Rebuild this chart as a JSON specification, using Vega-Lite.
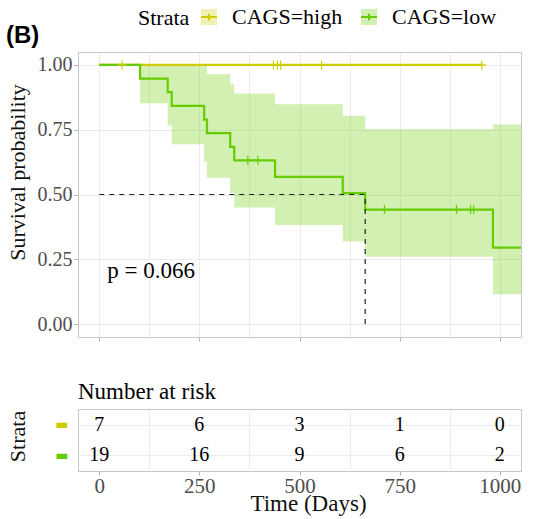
{
  "$schema": "https://vega.github.io/schema/vega-lite/v6.json",
  "background": "white",
  "padding": {"top": 6, "left": 5, "right": 0, "bottom": 0},
  "spacing": 38,
  "config": {
    "view": {"stroke": "#c6c6c6", "strokeWidth": 1},
    "font": "Liberation Serif",
    "axis": {
      "labelFont": "Liberation Serif",
      "titleFont": "Liberation Serif",
      "labelColor": "#4d4d4d",
      "titleColor": "#111111",
      "titleFontWeight": "normal",
      "gridColor": "#ebebeb",
      "gridWidth": 1,
      "tickColor": "#b3b3b3",
      "domain": false,
      "labelFontSize": 20,
      "titleFontSize": 22,
      "labelOverlap": false
    }
  },
  "datasets": {
    "line": [
      {"strata": "CAGS=high", "time": 0, "surv": 1},
      {"strata": "CAGS=high", "time": 955, "surv": 1},
      {"strata": "CAGS=low", "time": 0, "surv": 1},
      {"strata": "CAGS=low", "time": 102, "surv": 0.947},
      {"strata": "CAGS=low", "time": 171, "surv": 0.895},
      {"strata": "CAGS=low", "time": 181, "surv": 0.842},
      {"strata": "CAGS=low", "time": 262, "surv": 0.789},
      {"strata": "CAGS=low", "time": 269, "surv": 0.737},
      {"strata": "CAGS=low", "time": 327, "surv": 0.684},
      {"strata": "CAGS=low", "time": 337, "surv": 0.632},
      {"strata": "CAGS=low", "time": 439, "surv": 0.568},
      {"strata": "CAGS=low", "time": 608, "surv": 0.505},
      {"strata": "CAGS=low", "time": 664, "surv": 0.442},
      {"strata": "CAGS=low", "time": 983, "surv": 0.295},
      {"strata": "CAGS=low", "time": 1053, "surv": 0.295}
    ],
    "band": [
      {"strata": "CAGS=low", "time": 0, "lower": 1, "upper": 1},
      {"strata": "CAGS=low", "time": 102, "lower": 0.852, "upper": 1},
      {"strata": "CAGS=low", "time": 171, "lower": 0.767, "upper": 1},
      {"strata": "CAGS=low", "time": 181, "lower": 0.694, "upper": 1},
      {"strata": "CAGS=low", "time": 262, "lower": 0.626, "upper": 1},
      {"strata": "CAGS=low", "time": 269, "lower": 0.565, "upper": 0.964},
      {"strata": "CAGS=low", "time": 327, "lower": 0.506, "upper": 0.926},
      {"strata": "CAGS=low", "time": 337, "lower": 0.45, "upper": 0.89},
      {"strata": "CAGS=low", "time": 439, "lower": 0.382, "upper": 0.848},
      {"strata": "CAGS=low", "time": 608, "lower": 0.319, "upper": 0.804},
      {"strata": "CAGS=low", "time": 664, "lower": 0.26, "upper": 0.752},
      {"strata": "CAGS=low", "time": 983, "lower": 0.115, "upper": 0.77},
      {"strata": "CAGS=low", "time": 1053, "lower": 0.115, "upper": 0.77}
    ],
    "censor": [
      {"strata": "CAGS=high", "time": 57, "surv": 1},
      {"strata": "CAGS=high", "time": 435, "surv": 1},
      {"strata": "CAGS=high", "time": 445, "surv": 1},
      {"strata": "CAGS=high", "time": 453, "surv": 1},
      {"strata": "CAGS=high", "time": 555, "surv": 1},
      {"strata": "CAGS=high", "time": 955, "surv": 1},
      {"strata": "CAGS=low", "time": 371, "surv": 0.632},
      {"strata": "CAGS=low", "time": 396, "surv": 0.632},
      {"strata": "CAGS=low", "time": 712, "surv": 0.442},
      {"strata": "CAGS=low", "time": 892, "surv": 0.442},
      {"strata": "CAGS=low", "time": 927, "surv": 0.442},
      {"strata": "CAGS=low", "time": 935, "surv": 0.442}
    ],
    "median": [
      {"x": 0, "x2": 664, "y": 0.5, "y2": 0.5},
      {"x": 664, "x2": 664, "y": 0, "y2": 0.5}
    ],
    "risk": [
      {"strata": "CAGS=high", "time": 0, "n": 7},
      {"strata": "CAGS=high", "time": 250, "n": 6},
      {"strata": "CAGS=high", "time": 500, "n": 3},
      {"strata": "CAGS=high", "time": 750, "n": 1},
      {"strata": "CAGS=high", "time": 1000, "n": 0},
      {"strata": "CAGS=low", "time": 0, "n": 19},
      {"strata": "CAGS=low", "time": 250, "n": 16},
      {"strata": "CAGS=low", "time": 500, "n": 9},
      {"strata": "CAGS=low", "time": 750, "n": 6},
      {"strata": "CAGS=low", "time": 1000, "n": 2}
    ]
  },
  "vconcat": [
    {
      "width": 443,
      "height": 285,
      "title": {"text": "(B)", "anchor": "start", "frame": "bounds", "orient": "top", "font": "Liberation Sans", "fontSize": 24, "fontWeight": "bold", "color": "black", "offset": 4},
      "layer": [
        {
          "data": {"name": "band"},
          "mark": {"type": "area", "interpolate": "step-after", "opacity": 0.3, "color": "#66CC00"},
          "encoding": {
            "x": {"field": "time", "type": "quantitative", "scale": {"domain": [-53, 1053], "nice": false, "zero": false},
              "axis": {"title": null, "values": [0, 125, 250, 375, 500, 625, 750, 875, 1000], "labels": false, "grid": true, "tickSize": 4,
                "tickOpacity": {"condition": {"test": "datum.value % 250 === 0", "value": 1}, "value": 0}}},
            "y": {"field": "lower", "type": "quantitative", "scale": {"domain": [-0.05, 1.05], "nice": false, "zero": false},
              "axis": {"title": "Survival probability", "values": [0, 0.125, 0.25, 0.375, 0.5, 0.625, 0.75, 0.875, 1], "grid": true, "tickSize": 4, "labelPadding": 2,
                "labelExpr": "datum.value % 0.25 === 0 ? format(datum.value, '.2f') : ''",
                "tickOpacity": {"condition": {"test": "datum.value % 0.25 === 0", "value": 1}, "value": 0},
                "minExtent": 45, "maxExtent": 45, "titlePadding": 4, "titleY": 120}},
            "y2": {"field": "upper"}
          }
        },
        {
          "data": {"name": "line"},
          "mark": {"type": "line", "interpolate": "step-after", "strokeWidth": 2.2},
          "encoding": {
            "x": {"field": "time", "type": "quantitative"},
            "y": {"field": "surv", "type": "quantitative"},
            "color": {"field": "strata", "type": "nominal",
              "scale": {"domain": ["CAGS=high", "CAGS=low"], "range": ["#CCCC00", "#66CC00"]},
              "legend": {
                "title": "Strata", "orient": "none", "legendX": 60, "legendY": -46, "direction": "horizontal", "titleOrient": "left",
                "titleFont": "Liberation Serif", "titleFontSize": 22, "titleFontWeight": "normal", "titleColor": "black", "titlePadding": 8,
                "labelFont": "Liberation Serif", "labelFontSize": 22, "labelColor": "black", "labelOffset": 12,
                "symbolType": "M-1,0H1V1H-1V-1H1V0Z M0,-0.4V0.4",
                "symbolSize": 256,
                "symbolDash": [16, 400],
                "symbolStrokeWidth": 2,
                "symbolOpacity": 1,
                "symbolFillColor": {"expr": "datum.value === 'CAGS=high' ? '#f0f0b3' : '#d1f0b3'"},
                "columnPadding": 14,
                "padding": 0
              }}
          }
        },
        {
          "data": {"name": "censor"},
          "transform": [{"filter": "datum.strata === 'CAGS=high'"}],
          "mark": {"type": "point", "shape": "M-1,0H1M0,-1V1", "filled": false, "size": 81, "strokeWidth": 1.2, "opacity": 1, "color": "#CCCC00"},
          "encoding": {
            "x": {"field": "time", "type": "quantitative"},
            "y": {"field": "surv", "type": "quantitative"}
          }
        },
        {
          "data": {"name": "censor"},
          "transform": [{"filter": "datum.strata === 'CAGS=low'"}],
          "mark": {"type": "point", "shape": "M-1,0H1M0,-1V1", "filled": false, "size": 81, "strokeWidth": 1.2, "opacity": 1, "color": "#66CC00"},
          "encoding": {
            "x": {"field": "time", "type": "quantitative"},
            "y": {"field": "surv", "type": "quantitative"}
          }
        },
        {
          "data": {"name": "median"},
          "mark": {"type": "rule", "color": "#222222", "strokeWidth": 1.2, "strokeDash": [5, 5]},
          "encoding": {
            "x": {"field": "x", "type": "quantitative"},
            "x2": {"field": "x2"},
            "y": {"field": "y", "type": "quantitative"},
            "y2": {"field": "y2"}
          }
        },
        {
          "data": {"values": [{}]},
          "mark": {"type": "text", "align": "left", "baseline": "middle", "fontSize": 23, "font": "Liberation Serif", "color": "black"},
          "encoding": {
            "x": {"datum": 20, "type": "quantitative"},
            "y": {"datum": 0.205, "type": "quantitative"},
            "text": {"value": "p = 0.066"}
          }
        }
      ]
    },
    {
      "width": 443,
      "height": 62,
      "title": {"text": "Number at risk", "anchor": "start", "frame": "group", "orient": "top", "font": "Liberation Serif", "fontSize": 23, "fontWeight": "normal", "color": "black", "offset": 5},
      "data": {"name": "risk"},
      "mark": {"type": "text", "fontSize": 20, "font": "Liberation Serif", "color": "black", "align": "center", "baseline": "middle"},
      "encoding": {
        "x": {"field": "time", "type": "quantitative", "scale": {"domain": [-53, 1053], "nice": false, "zero": false},
          "axis": {"title": "Time (Days)", "values": [0, 125, 250, 375, 500, 625, 750, 875, 1000], "format": "d",
            "labelExpr": "datum.value % 250 === 0 ? datum.label : ''", "grid": true, "tickSize": 4, "labelPadding": 0,
            "tickOpacity": {"condition": {"test": "datum.value % 250 === 0", "value": 1}, "value": 0},
            "gridOpacity": {"condition": {"test": "datum.value % 250 === 0", "value": 0}, "value": 1},
            "labelFontSize": 21, "titleFontSize": 23, "titlePadding": -4, "titleX": 230, "labelFlush": false}},
        "y": {"field": "strata", "type": "nominal", "scale": {"type": "point", "domain": ["CAGS=high", "CAGS=low"], "padding": 0.533},
          "axis": {"title": "Strata", "labelExpr": "'▬'", "labelFont": "DejaVu Sans", "labelFontSize": 14, "ticks": false, "tickSize": 0, "labelPadding": 10, "grid": true,
            "labelColor": {"condition": {"test": "datum.value === 'CAGS=high'", "value": "#CCCC00"}, "value": "#66CC00"},
            "minExtent": 45, "maxExtent": 45, "titlePadding": 4, "titleY": 27}},
        "text": {"field": "n", "type": "quantitative"}
      }
    }
  ]
}
